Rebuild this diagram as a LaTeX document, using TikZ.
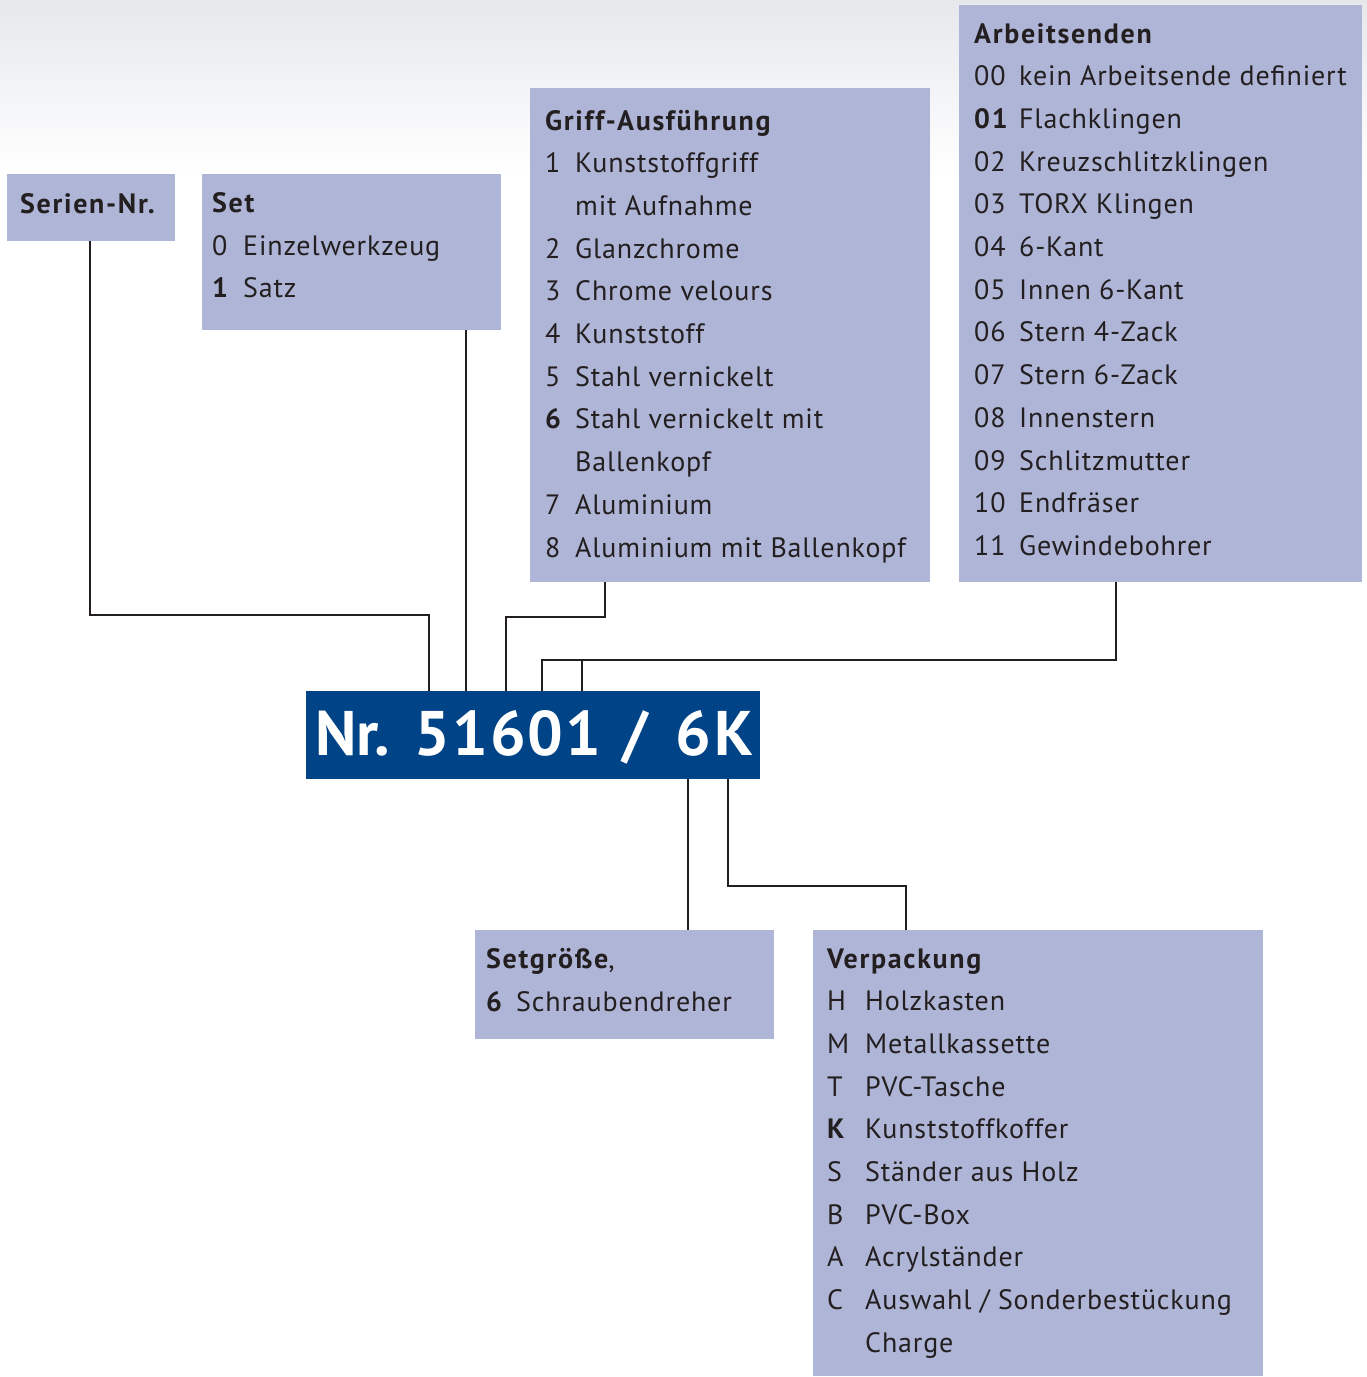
\documentclass[tikz,border=0pt]{standalone}
\usepackage{fontspec}
\setmainfont{PT Sans}[LetterSpace=3, BoldFeatures={LetterSpace=6}]
\newfontfamily\titlefont{PT Sans}[LetterSpace=6]
\definecolor{boxc}{HTML}{AFB5D6}
\definecolor{bluec}{HTML}{004387}
\definecolor{txtc}{HTML}{231F20}
\definecolor{topgray}{HTML}{E6E8EC}
\tikzset{
  box/.style={fill=boxc, draw=none, inner sep=0pt, anchor=north west},
  txt/.style={inner sep=0pt, anchor=base west, text=txtc, font=\fontsize{28}{34}\selectfont},
  conn/.style={draw=txtc, line width=2.5pt, line join=miter}
}
\begin{document}
\begin{tikzpicture}[x=1pt,y=-1pt]
\useasboundingbox (0,0) rectangle (1367,1377);
\shade[top color=topgray, bottom color=white] (0,0) rectangle (1367,175);
% boxes
\node[box, minimum width=168pt, minimum height=67pt] (serien) at (7,174) {};
\node[box, minimum width=299pt, minimum height=156pt] (set) at (202,174) {};
\node[box, minimum width=400pt, minimum height=494pt] (griff) at (530,88) {};
\node[box, minimum width=403pt, minimum height=577pt] (arb) at (959,5) {};
\node[box, minimum width=299pt, minimum height=109pt] (sgr) at (475,930) {};
\node[box, minimum width=450pt, minimum height=446pt] (verp) at (813,930) {};
\node[box, fill=bluec, minimum width=454pt, minimum height=88pt] (nr) at (306,691) {};
\node[inner sep=0pt, anchor=base west, text=white, font=\titlefont\bfseries\fontsize{63}{70}\selectfont] (nrtext) at (315,755)
  {\makebox[99pt][l]{\addfontfeature{LetterSpace=0}Nr.}\makebox[208pt][l]{\addfontfeature{LetterSpace=3.5}51601}\makebox[53pt][l]{/}6K};
% texts
\node[txt] (serien-t) at (20,213) {\bfseries Serien-Nr.};
\node[txt] (set-t) at (212,212) {\bfseries Set};
\node[txt] (set-n1) at (212,255) {0};
\node[txt] (set-t1) at (243,255) {Einzelwerkzeug};
\node[txt] (set-n2) at (212,297) {\bfseries 1};
\node[txt] (set-t2) at (243,297) {Satz};
\node[txt] (griff-t) at (545,130) {\bfseries Griff-Ausführung};
\foreach [count=\i] \n/\t in {1/Kunststoffgriff, {}/mit Aufnahme, 2/Glanzchrome, 3/Chrome velours, 4/Kunststoff, 5/Stahl vernickelt, \textbf{6}/Stahl vernickelt mit, {}/Ballenkopf, 7/Aluminium, 8/Aluminium mit Ballenkopf}{
  \node[txt] (griff-n\i) at (545,{130+\i*42.7}) {\n};
  \node[txt] (griff-t\i) at (575,{130+\i*42.7}) {\t};
}
\node[txt] (arb-t) at (974,43) {\bfseries Arbeitsenden};
\foreach [count=\i] \n/\t in {00/kein Arbeitsende definiert, \textbf{01}/Flachklingen, 02/Kreuzschlitzklingen, 03/TORX Klingen, 04/6-Kant, 05/Innen 6-Kant, 06/Stern 4-Zack, 07/Stern 6-Zack, 08/Innenstern, 09/Schlitzmutter, 10/Endfräser, 11/Gewindebohrer}{
  \node[txt] (arb-n\i) at (974,{43+\i*42.7}) {\n};
  \node[txt] (arb-t\i) at (1019,{43+\i*42.7}) {\t};
}
\node[txt] (sgr-t) at (486,968) {\textbf{Setgröße},};
\node[txt] (sgr-n1) at (486,1011) {\bfseries 6};
\node[txt] (sgr-t1) at (516,1011) {Schraubendreher};
\node[txt] (verp-t) at (827,968) {\bfseries Verpackung};
\foreach [count=\i] \n/\t in {H/Holzkasten, M/Metallkassette, T/PVC-Tasche, \textbf{K}/Kunststoffkoffer, S/Ständer aus Holz, B/PVC-Box, A/Acrylständer, C/{Auswahl / Sonderbestückung}, {}/Charge}{
  \node[txt] (verp-n\i) at (827,{968+\i*42.7}) {\n};
  \node[txt] (verp-t\i) at (865,{968+\i*42.7}) {\t};
}
% connectors
\coordinate (c1) at (90,615);
\coordinate (c2) at (429,615);
\draw[conn] (serien.south -| c1) -- (c1) -- (c2) -- (nr.north -| c2);
\draw[conn] (set.south -| 466,0) -- (nr.north -| 466,0);
\coordinate (g1) at (605,617);
\coordinate (g2) at (506,617);
\draw[conn] (griff.south -| g1) -- (g1) -- (g2) -- (nr.north -| g2);
\coordinate (a1) at (1116,660);
\coordinate (a2) at (542,660);
\coordinate (a3) at (582,660);
\draw[conn] (arb.south -| a1) -- (a1) -- (a2) -- (nr.north -| a2);
\draw[conn] (a3) -- (nr.north -| a3);
\draw[conn] (nr.south -| 688,0) -- (sgr.north -| 688,0);
\coordinate (v1) at (728,886);
\coordinate (v2) at (906,886);
\draw[conn] (nr.south -| v1) -- (v1) -- (v2) -- (verp.north -| v2);
\end{tikzpicture}
\end{document}
